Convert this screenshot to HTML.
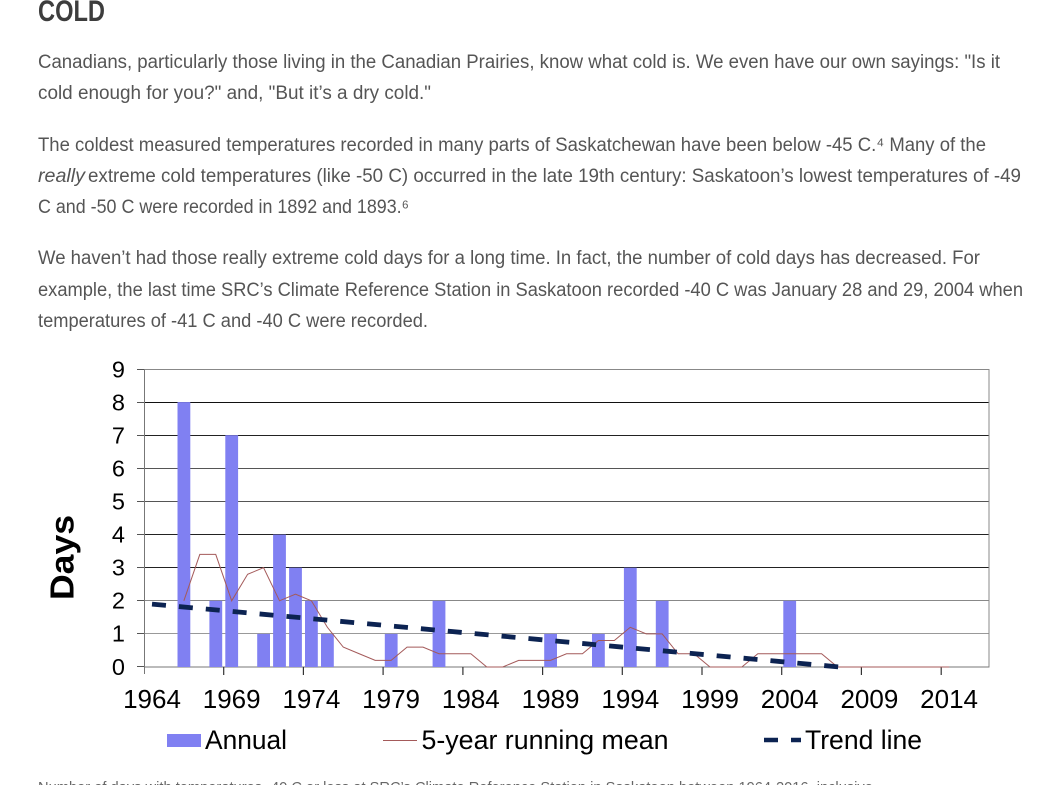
<!DOCTYPE html>
<html><head><meta charset="utf-8"><style>
html,body{margin:0;padding:0;background:#fff;width:1041px;height:785px;overflow:hidden}
svg{display:block}
.b{font-family:"Liberation Sans",sans-serif;font-size:19px;fill:#555}
.a{font-family:"Liberation Sans",Arial,sans-serif;fill:#000}
</style></head><body>
<svg width="1041" height="785" viewBox="0 0 1041 785" xmlns="http://www.w3.org/2000/svg">
<rect width="1041" height="785" fill="#fff"/>
<text x="38" y="21" font-family="Liberation Sans, sans-serif" font-weight="bold" font-size="30" fill="#3d3d3d" textLength="67" lengthAdjust="spacingAndGlyphs">COLD</text>
<text class="b" x="38" y="68" textLength="962" lengthAdjust="spacingAndGlyphs">Canadians, particularly those living in the Canadian Prairies, know what cold is. We even have our own sayings: "Is it</text>
<text class="b" x="38" y="99" textLength="393" lengthAdjust="spacingAndGlyphs">cold enough for you?" and, "But it’s a dry cold."</text>
<text class="b" x="38" y="151" textLength="948" lengthAdjust="spacingAndGlyphs">The coldest measured temperatures recorded in many parts of Saskatchewan have been below -45 C.⁴ Many of the</text>
<text class="b" x="38" y="182" font-style="italic" textLength="47" lengthAdjust="spacingAndGlyphs">really</text>
<text class="b" x="88" y="182" textLength="933" lengthAdjust="spacingAndGlyphs">extreme cold temperatures (like -50 C) occurred in the late 19th century: Saskatoon’s lowest temperatures of -49</text>
<text class="b" x="38" y="213" textLength="371" lengthAdjust="spacingAndGlyphs">C and -50 C were recorded in 1892 and 1893.⁶</text>
<text class="b" x="38" y="264" textLength="942" lengthAdjust="spacingAndGlyphs">We haven’t had those really extreme cold days for a long time. In fact, the number of cold days has decreased. For</text>
<text class="b" x="38" y="296" textLength="985" lengthAdjust="spacingAndGlyphs">example, the last time SRC’s Climate Reference Station in Saskatoon recorded -40 C was January 28 and 29, 2004 when</text>
<text class="b" x="38" y="327" textLength="390" lengthAdjust="spacingAndGlyphs">temperatures of -41 C and -40 C were recorded.</text>

<!-- gridlines -->
<g stroke-width="1" shape-rendering="crispEdges">
<line x1="144" y1="402.5" x2="989" y2="402.5" stroke="#111"/>
<line x1="144" y1="435.5" x2="989" y2="435.5" stroke="#222"/>
<line x1="144" y1="468.5" x2="989" y2="468.5" stroke="#555"/>
<line x1="144" y1="501.5" x2="989" y2="501.5" stroke="#555"/>
<line x1="144" y1="534.5" x2="989" y2="534.5" stroke="#222"/>
<line x1="144" y1="567.5" x2="989" y2="567.5" stroke="#222"/>
<line x1="144" y1="600.5" x2="989" y2="600.5" stroke="#888"/>
<line x1="144" y1="633.5" x2="989" y2="633.5" stroke="#999"/>
<rect x="144.5" y="369.5" width="844.5" height="297.5" fill="none" stroke="#888"/>
<line x1="144.5" y1="369" x2="144.5" y2="674" stroke="#777"/>
<line x1="144" y1="667" x2="989" y2="667" stroke="#777"/>
</g>
<!-- y ticks -->
<g stroke="#555" stroke-width="1" shape-rendering="crispEdges">
<line x1="137" y1="369.5" x2="144" y2="369.5"/><line x1="137" y1="402.5" x2="144" y2="402.5"/>
<line x1="137" y1="435.5" x2="144" y2="435.5"/><line x1="137" y1="468.5" x2="144" y2="468.5"/>
<line x1="137" y1="501.5" x2="144" y2="501.5"/><line x1="137" y1="534.5" x2="144" y2="534.5"/>
<line x1="137" y1="567.5" x2="144" y2="567.5"/><line x1="137" y1="600.5" x2="144" y2="600.5"/>
<line x1="137" y1="633.5" x2="144" y2="633.5"/><line x1="137" y1="666.5" x2="144" y2="666.5"/>
</g>
<!-- x ticks -->
<g stroke="#333" stroke-width="1.2">
<line x1="223.7" y1="667" x2="223.7" y2="675"/><line x1="303.4" y1="667" x2="303.4" y2="675"/>
<line x1="383.1" y1="667" x2="383.1" y2="675"/><line x1="462.9" y1="667" x2="462.9" y2="675"/>
<line x1="542.6" y1="667" x2="542.6" y2="675"/><line x1="622.3" y1="667" x2="622.3" y2="675"/>
<line x1="702.0" y1="667" x2="702.0" y2="675"/><line x1="781.7" y1="667" x2="781.7" y2="675"/>
<line x1="861.4" y1="667" x2="861.4" y2="675"/><line x1="941.2" y1="667" x2="941.2" y2="675"/>
</g>
<!-- y labels -->
<g class="a" font-size="23.5" text-anchor="end">
<text x="125" y="377.5">9</text><text x="125" y="410.5">8</text><text x="125" y="443.5">7</text>
<text x="125" y="476.5">6</text><text x="125" y="509.5">5</text><text x="125" y="542.5">4</text>
<text x="125" y="575.5">3</text><text x="125" y="608.5">2</text><text x="125" y="641.5">1</text>
<text x="125" y="675">0</text>
</g>
<text class="a" transform="translate(73.5,557.5) rotate(-90)" text-anchor="middle" font-size="33" font-weight="bold" textLength="85" lengthAdjust="spacingAndGlyphs">Days</text>
<!-- x labels -->
<g class="a" font-size="26" text-anchor="middle">
<text x="152.0" y="708">1964</text><text x="231.7" y="708">1969</text><text x="311.4" y="708">1974</text>
<text x="391.1" y="708">1979</text><text x="470.8" y="708">1984</text><text x="550.6" y="708">1989</text>
<text x="630.3" y="708">1994</text><text x="710.0" y="708">1999</text><text x="789.7" y="708">2004</text>
<text x="869.4" y="708">2009</text><text x="949.1" y="708">2014</text>
</g>
<!-- bars -->
<g fill="#8080f2">
<rect x="177.5" y="402.1" width="12.8" height="264.9"/>
<rect x="209.4" y="600.8" width="12.8" height="66.2"/>
<rect x="225.3" y="435.2" width="12.8" height="231.8"/>
<rect x="257.2" y="633.9" width="12.8" height="33.1"/>
<rect x="273.1" y="534.6" width="12.8" height="132.4"/>
<rect x="289.1" y="567.7" width="12.8" height="99.3"/>
<rect x="305.0" y="600.8" width="12.8" height="66.2"/>
<rect x="321.0" y="633.9" width="12.8" height="33.1"/>
<rect x="384.8" y="633.9" width="12.8" height="33.1"/>
<rect x="432.6" y="600.8" width="12.8" height="66.2"/>
<rect x="544.2" y="633.9" width="12.8" height="33.1"/>
<rect x="592.0" y="633.9" width="12.8" height="33.1"/>
<rect x="623.9" y="567.7" width="12.8" height="99.3"/>
<rect x="655.8" y="600.8" width="12.8" height="66.2"/>
<rect x="783.3" y="600.8" width="12.8" height="66.2"/>
</g>
<!-- running mean -->
<polyline fill="none" stroke="#a45a5a" stroke-width="1" points="183.86,600.78 199.80,554.42 215.74,554.42 231.69,600.78 247.63,574.29 263.57,567.67 279.52,600.78 295.46,594.16 311.40,600.78 327.35,627.27 343.29,647.13 359.23,653.76 375.18,660.38 391.12,660.38 407.06,647.13 423.01,647.13 438.95,653.76 454.89,653.76 470.84,653.76 486.78,667 502.72,667 518.67,660.38 534.61,660.38 550.55,660.38 566.50,653.76 582.44,653.76 598.38,640.51 614.33,640.51 630.27,627.27 646.21,633.89 662.16,633.89 678.10,653.76 694.04,653.76 709.99,667 725.93,667 741.87,667 757.82,653.76 773.76,653.76 789.70,653.76 805.65,653.76 821.59,653.76 837.53,667 949.12,667"/>
<!-- trend -->
<line x1="152" y1="604.1" x2="839.8" y2="667" stroke="#0c2352" stroke-width="4.8" stroke-dasharray="14 13"/>
<!-- legend -->
<rect x="167" y="734" width="34" height="13" fill="#8080f2"/>
<text class="a" x="205" y="749" font-size="26.5" textLength="82" lengthAdjust="spacingAndGlyphs">Annual</text>
<line x1="383" y1="740.5" x2="417" y2="740.5" stroke="#a45a5a" stroke-width="1"/>
<text class="a" x="421.5" y="749" font-size="26.5" textLength="247" lengthAdjust="spacingAndGlyphs">5-year running mean</text>
<line x1="764" y1="740" x2="778" y2="740" stroke="#0c2352" stroke-width="4.5"/>
<line x1="791" y1="740" x2="801" y2="740" stroke="#0c2352" stroke-width="4.5"/>
<text class="a" x="805" y="749" font-size="26.5" textLength="117" lengthAdjust="spacingAndGlyphs">Trend line</text>
<!-- caption (cut off) -->
<text x="38" y="792" font-family="Liberation Sans, sans-serif" font-size="15" fill="#666" textLength="839" lengthAdjust="spacingAndGlyphs">Number of days with temperatures -40 C or less at SRC’s Climate Reference Station in Saskatoon between 1964-2016, inclusive.</text>
</svg>
</body></html>
